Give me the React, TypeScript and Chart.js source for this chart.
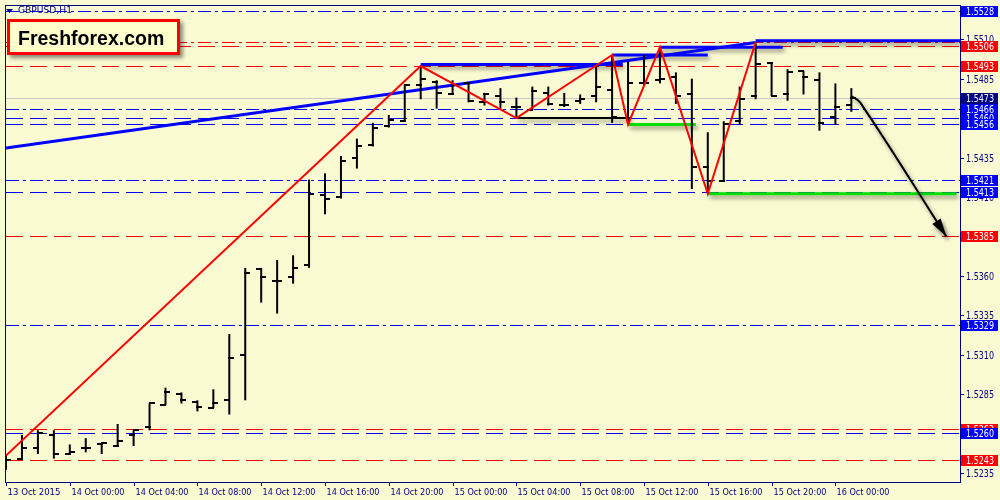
import React, { useEffect, useRef } from "react";
import { Chart, registerables } from "chart.js";

Chart.register(...registerables);

// ---------- data (GBPUSD H1, one bar per hour from 13 Oct 20:00) ----------
const opens = [
  1.5241, 1.5244, 1.5251, 1.5259, 1.5247, 1.5251, 1.5253, 1.5252, 1.5259, 1.5264,
  1.5278, 1.5285, 1.5280, 1.5276, 1.5281, 1.5310, 1.5364, 1.5357, 1.5359, 1.5367,
  1.5411, 1.5410, 1.5435, 1.5443, 1.5455, 1.5458, 1.5481, 1.5483, 1.5475, 1.5482,
  1.5470, 1.5474, 1.5467, 1.5465, 1.5476, 1.5468, 1.5471, 1.5474, 1.5478, 1.5460,
  1.5482, 1.5484, 1.5486, 1.5475, 1.5429, 1.5420, 1.5458, 1.5474, 1.5495, 1.5475,
  1.5490, 1.5484, 1.5461, 1.5468,
];
const highs = [
  1.5246, 1.5259, 1.5262, 1.5262, 1.5253, 1.5257, 1.5254, 1.5266, 1.5262, 1.5279,
  1.5289, 1.5286, 1.5281, 1.5288, 1.5323, 1.5365, 1.5365, 1.5370, 1.5373, 1.5421,
  1.5425, 1.5436, 1.5447, 1.5457, 1.5462, 1.5481, 1.5493, 1.5484, 1.5484, 1.5482,
  1.5476, 1.5479, 1.5473, 1.5480, 1.5480, 1.5476, 1.5475, 1.5494, 1.5500, 1.5496,
  1.5500, 1.5505, 1.5489, 1.5485, 1.5451, 1.5458, 1.5480, 1.5508, 1.5495, 1.5491,
  1.5490, 1.5489, 1.5482, 1.5479,
];
const lows = [
  1.5237, 1.5244, 1.5247, 1.5244, 1.5247, 1.5248, 1.5247, 1.5252, 1.5252, 1.5262,
  1.5278, 1.5279, 1.5274, 1.5276, 1.5272, 1.5281, 1.5343, 1.5336, 1.5355, 1.5365,
  1.5399, 1.5409, 1.5428, 1.5442, 1.5454, 1.5458, 1.5472, 1.5466, 1.5475, 1.5470,
  1.5468, 1.5466, 1.5460, 1.5465, 1.5468, 1.5467, 1.5469, 1.5470, 1.5457, 1.5456,
  1.5481, 1.5482, 1.5469, 1.5415, 1.5412, 1.5420, 1.5456, 1.5472, 1.5474, 1.5471,
  1.5475, 1.5452, 1.5456, 1.5464,
];
const closes = [
  1.5243, 1.5251, 1.5260, 1.5247, 1.5248, 1.5251, 1.5254, 1.5255, 1.5262, 1.5279,
  1.5286, 1.5281, 1.5277, 1.5279, 1.5308, 1.5362, 1.5359, 1.5357, 1.5365, 1.5412,
  1.5409, 1.5433, 1.5442, 1.5454, 1.5459, 1.5481, 1.5485, 1.5476, 1.5481, 1.5471,
  1.5475, 1.5470, 1.5467, 1.5477, 1.5469, 1.5468, 1.5472, 1.5480, 1.5461, 1.5482,
  1.5482, 1.5485, 1.5474, 1.5429, 1.5420, 1.5456, 1.5472, 1.5494, 1.5474, 1.5489,
  1.5486, 1.5457, 1.5467, 1.5473,
];

const xTickBars = [0, 4, 8, 12, 16, 20, 24, 28, 32, 36, 40, 44, 48, 52];
const xTickLabels = [
  "13 Oct 2015", "14 Oct 00:00", "14 Oct 04:00", "14 Oct 08:00", "14 Oct 12:00",
  "14 Oct 16:00", "14 Oct 20:00", "15 Oct 00:00", "15 Oct 04:00", "15 Oct 08:00",
  "15 Oct 12:00", "15 Oct 16:00", "15 Oct 20:00", "16 Oct 00:00",
];
const yTickValues = [
  1.5235, 1.526, 1.5285, 1.531, 1.5335, 1.536, 1.5385, 1.541, 1.5435, 1.546, 1.5485, 1.551,
];

const levelPrices = [
  1.5528, 1.5508, 1.5506, 1.5493, 1.5473, 1.5466, 1.546, 1.5456, 1.5421, 1.5413,
  1.5385, 1.5329, 1.5263, 1.526, 1.5243,
];
const levelKinds = [
  "blueDashDot", "redDashDot", "redDash", "redDash", "bid", "blueDashDot", "blueDash", "blueDash",
  "blueDashDot", "blueDash", "redDash", "blueDashDot", "redDash", "blueDash", "redDash",
];

const zigzagBars = [0, 26, 32, 38, 39, 41, 44, 47];
const zigzagPrices = [1.5246, 1.5493, 1.546, 1.55, 1.5456, 1.5505, 1.5412, 1.5508];

const trendBars = [0, 47];
const trendPrices = [1.5441, 1.5508];

const segStartBars = [26, 32, 39, 38, 41, 47, 44];
const segEndBars = [38.67, 39.2, 43.25, 44, 48.7, 59.81, 59.6];
const segPrices = [1.5494, 1.546, 1.5456, 1.55, 1.5505, 1.5509, 1.5412];
const segKinds = ["blue", "black", "green", "blue", "blue", "blue", "green"];

const arrowBars = [53.0, 53.55, 58.95];
const arrowPrices = [1.5474, 1.547, 1.5385];

// ---------- styles ----------
const NAVY = "#000080";
const BG = "#FAFAD2";
const PRICE_FONT = "10.5px 'DejaVu Sans', Verdana, sans-serif";
const TIME_FONT = "9.5px 'DejaVu Sans', Verdana, sans-serif";
const TITLE_FONT = "9.5px 'DejaVu Sans', Verdana, sans-serif";
const X_MIN = 0;
const X_MAX = 59.8125;
const Y_MIN = 1.52292;
const Y_MAX = 1.55311;

const LONG_DASH = [17, 7];
const DASH_DOT = [13, 4, 3, 4];

const levelStyles: Record<string, { color: string; dash: number[]; label: string | null }> = {
  blueDash: { color: "#0000FF", dash: LONG_DASH, label: "#0000FF" },
  blueDashDot: { color: "#0000FF", dash: DASH_DOT, label: "#0000FF" },
  redDash: { color: "#FF0000", dash: LONG_DASH, label: "#FF0000" },
  redDashDot: { color: "#FF0000", dash: DASH_DOT, label: null },
  bid: { color: "#C8C8C8", dash: [], label: "#000080" },
};
const segStyles: Record<string, { color: string; width: number }> = {
  blue: { color: "#0000FF", width: 3 },
  black: { color: "#000000", width: 2 },
  green: { color: "#00E000", width: 3 },
};

function makeTick(left: boolean): HTMLCanvasElement {
  const c = document.createElement("canvas");
  c.width = 12;
  c.height = 2;
  const g = c.getContext("2d")!;
  g.fillStyle = "#000";
  if (left) g.fillRect(1, 0, 6, 2);
  else g.fillRect(5, 0, 6, 2);
  return c;
}

const mt4Plugin = {
  id: "mt4",
  beforeDatasetsDraw(chart: any) {
    const { ctx, chartArea: a, scales } = chart;
    const y = scales.y;
    ctx.save();
    ctx.beginPath();
    ctx.rect(a.left, a.top, a.right - a.left, a.bottom - a.top);
    ctx.clip();
    levelPrices.forEach((p, i) => {
      const st = levelStyles[levelKinds[i]];
      const py = Math.round(y.getPixelForValue(p)) + 0.5;
      ctx.strokeStyle = st.color;
      ctx.lineWidth = 1;
      ctx.setLineDash(st.dash);
      ctx.beginPath();
      ctx.moveTo(a.left, py);
      ctx.lineTo(a.right, py);
      ctx.stroke();
    });
    ctx.restore();
    ctx.imageSmoothingEnabled = false;
  },
  beforeDatasetDraw(chart: any, args: any) {
    const ds = chart.data.datasets[args.index];
    if (ds.shadow) {
      const ctx = chart.ctx;
      ctx.save();
      ctx.shadowColor = "rgba(0,0,0,0.45)";
      ctx.shadowBlur = 4;
      ctx.shadowOffsetX = 2;
      ctx.shadowOffsetY = 3;
    }
  },
  afterDatasetDraw(chart: any, args: any) {
    const ds = chart.data.datasets[args.index];
    if (ds.shadow) chart.ctx.restore();
  },
  afterDatasetsDraw(chart: any) {
    const { ctx, scales } = chart;
    const { x, y } = scales;
    const n = arrowBars.length;
    const tx = x.getPixelForValue(arrowBars[n - 1]);
    const ty = y.getPixelForValue(arrowPrices[n - 1]);
    const px = x.getPixelForValue(arrowBars[n - 2]);
    const py = y.getPixelForValue(arrowPrices[n - 2]);
    const ang = Math.atan2(ty - py, tx - px);
    const len = 18;
    const hw = 5;
    const bx = tx - Math.cos(ang) * len;
    const by = ty - Math.sin(ang) * len;
    ctx.save();
    ctx.shadowColor = "rgba(0,0,0,0.45)";
    ctx.shadowBlur = 4;
    ctx.shadowOffsetX = 2;
    ctx.shadowOffsetY = 3;
    ctx.fillStyle = "#000";
    ctx.beginPath();
    ctx.moveTo(tx, ty);
    ctx.lineTo(bx + Math.sin(ang) * hw, by - Math.cos(ang) * hw);
    ctx.lineTo(bx - Math.sin(ang) * hw, by + Math.cos(ang) * hw);
    ctx.closePath();
    ctx.fill();
    ctx.restore();
  },
  afterDraw(chart: any) {
    const { ctx, chartArea: a, scales } = chart;
    const { x, y } = scales;
    ctx.save();
    ctx.setLineDash([]);
    ctx.lineWidth = 1;
    ctx.strokeStyle = NAVY;
    ctx.strokeRect(
      Math.round(a.left) - 0.5,
      Math.round(a.top) - 0.5,
      Math.round(a.right - a.left) + 1,
      Math.round(a.bottom - a.top) + 1
    );
    ctx.font = PRICE_FONT;
    ctx.textAlign = "left";
    ctx.textBaseline = "middle";
    yTickValues.forEach((v) => {
      const py = Math.round(y.getPixelForValue(v)) + 0.5;
      ctx.beginPath();
      ctx.moveTo(a.right, py);
      ctx.lineTo(a.right + 4, py);
      ctx.stroke();
      ctx.fillStyle = NAVY;
      ctx.fillText(v.toFixed(4), a.right + 6, py + 0.5, 28);
    });
    const idx = levelPrices
      .map((_, i) => i)
      .filter((i) => levelStyles[levelKinds[i]].label)
      .sort((i, j) => levelPrices[j] - levelPrices[i]);
    idx.forEach((i) => {
      const st = levelStyles[levelKinds[i]];
      const py = Math.round(y.getPixelForValue(levelPrices[i]));
      ctx.fillStyle = st.label as string;
      ctx.fillRect(a.right + 1, py - 5, 37, 11);
      ctx.fillStyle = "#FFFFFF";
      ctx.fillText(levelPrices[i].toFixed(4), a.right + 6, py + 1, 28);
    });
    ctx.font = TIME_FONT;
    ctx.textBaseline = "alphabetic";
    xTickBars.forEach((b, k) => {
      const px = Math.round(x.getPixelForValue(b)) + 0.5;
      ctx.beginPath();
      ctx.moveTo(px, a.bottom + 1);
      ctx.lineTo(px, a.bottom + 4);
      ctx.stroke();
      ctx.fillStyle = NAVY;
      ctx.fillText(xTickLabels[k], px + 1, a.bottom + 13, 53);
    });
    ctx.fillStyle = NAVY;
    ctx.beginPath();
    ctx.moveTo(6, 9);
    ctx.lineTo(13, 9);
    ctx.lineTo(9.5, 13);
    ctx.closePath();
    ctx.fill();
    ctx.font = TITLE_FONT;
    ctx.textBaseline = "middle";
    ctx.fillText("GBPUSD,H1", 18, 11, 54);
    ctx.restore();
  },
};

export default function App() {
  const ref = useRef<HTMLCanvasElement>(null);

  useEffect(() => {
    const canvas = ref.current;
    if (!canvas) return;
    const openImg = makeTick(true);
    const closeImg = makeTick(false);

    const datasets: any[] = [];

    segPrices.forEach((p, i) => {
      const st = segStyles[segKinds[i]];
      datasets.push({
        type: "line",
        data: [
          { x: segStartBars[i], y: p },
          { x: segEndBars[i], y: p },
        ],
        borderColor: st.color,
        borderWidth: st.width,
        pointRadius: 0,
        shadow: true,
        order: 6,
      });
    });

    datasets.push({
      type: "line",
      data: trendBars.map((b, i) => ({ x: b, y: trendPrices[i] })),
      borderColor: "#0000FF",
      borderWidth: 3,
      pointRadius: 0,
      order: 5,
    });

    datasets.push({
      type: "bar",
      data: highs.map((h, i) => ({ x: i, y: [lows[i], h] })),
      backgroundColor: "#000000",
      borderWidth: 0,
      barThickness: 2,
      inflateAmount: 0,
      grouped: false,
      order: 4,
    });

    datasets.push({
      type: "scatter",
      data: opens.map((o, i) => ({ x: i, y: o })),
      pointStyle: openImg,
      pointRadius: 5,
      order: 3,
    });
    datasets.push({
      type: "scatter",
      data: closes.map((c, i) => ({ x: i, y: c })),
      pointStyle: closeImg,
      pointRadius: 5,
      order: 3,
    });

    datasets.push({
      type: "line",
      data: zigzagBars.map((b, i) => ({ x: b, y: zigzagPrices[i] })),
      borderColor: "#FF0000",
      borderWidth: 2,
      pointRadius: 0,
      tension: 0,
      order: 2,
    });

    datasets.push({
      type: "line",
      data: arrowBars.map((b, i) => ({ x: b, y: arrowPrices[i] })),
      borderColor: "#000000",
      borderWidth: 2,
      pointRadius: 0,
      tension: 0.4,
      shadow: true,
      order: 1,
    });

    const chart = new Chart(canvas, {
      type: "scatter",
      data: { datasets },
      options: {
        animation: false,
        responsive: false,
        events: [],
        layout: { padding: { left: 3, top: 2, right: 40, bottom: 18 } },
        plugins: { legend: { display: false }, tooltip: { enabled: false } },
        scales: {
          x: { type: "linear", min: X_MIN, max: X_MAX, display: false, offset: false },
          y: { type: "linear", min: Y_MIN, max: Y_MAX, display: false },
        },
      } as any,
      plugins: [mt4Plugin as any],
    });
    return () => chart.destroy();
  }, []);

  const logoStyle: React.CSSProperties = {
    position: "absolute",
    left: 7,
    top: 19,
    width: 173,
    height: 36,
    boxSizing: "border-box",
    border: "3px solid #FF0000",
    background: "#FFFFCC",
    boxShadow: "3px 3px 4px rgba(0,0,0,0.45)",
    font: "bold 19.5px 'Liberation Sans', Arial, sans-serif",
    color: "#000000",
    lineHeight: "30px",
    padding: "1px 0 0 8px",
    whiteSpace: "nowrap",
  };

  const wrapStyle: React.CSSProperties = {
    position: "fixed",
    left: 0,
    top: 0,
    width: 1000,
    height: 500,
    background: BG,
    overflow: "hidden",
  };

  return (
    <div style={wrapStyle}>
      <canvas
        ref={ref}
        width={1000}
        height={500}
        style={{ position: "absolute", left: 0, top: 0, width: 1000, height: 500 }}
      />
      <div style={logoStyle}>Freshforex.com</div>
    </div>
  );
}
